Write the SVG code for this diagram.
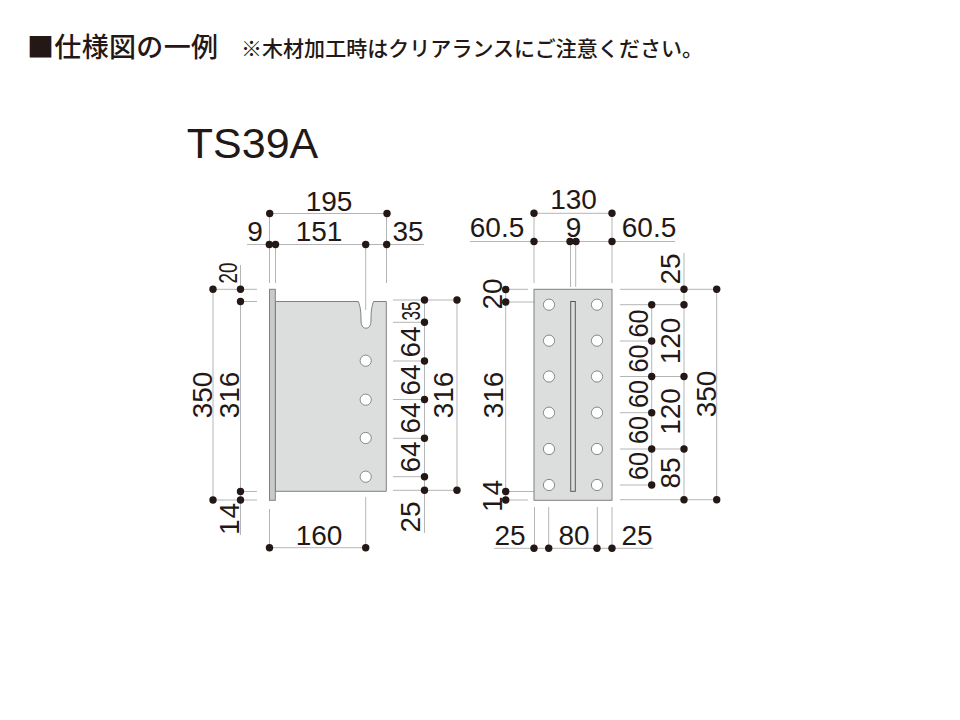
<svg xmlns="http://www.w3.org/2000/svg" width="960" height="720" viewBox="0 0 960 720">
<style>
text{font-family:"Liberation Sans",Arial,sans-serif;font-size:28px;fill:#231815;text-anchor:middle}
.jp{font-family:"Noto Sans CJK JP","Liberation Sans",sans-serif;text-anchor:start;font-weight:500}
.dim line{stroke:#b5b5b5;stroke-width:1;fill:none}
.dots circle{fill:#231815;r:3.7px}
.plate{fill:#dcdddd;stroke:#808080;stroke-width:1}
.hole{fill:#fff;stroke:#6e6e6e;stroke-width:.8;r:5.6px}
</style>
<rect width="960" height="720" fill="#fff"/>
<g id="header">
<text class="jp" x="27" y="57" style="font-size:27px" textLength="191" lengthAdjust="spacing">■仕様図の一例</text>
<text class="jp" x="241" y="56" style="font-size:21px" textLength="462" lengthAdjust="spacing">※木材加工時はクリアランスにご注意ください。</text>
<text x="252.500" y="158" style="font-size:43px">TS39A</text>
</g>
<g id="connectors">
<g class="dim">
<line x1="269.500" y1="213.500" x2="387" y2="213.500"/>
<line x1="247" y1="244.500" x2="424" y2="244.500"/>
<line x1="269.500" y1="213.500" x2="269.500" y2="283"/>
<line x1="275.500" y1="244.500" x2="275.500" y2="283"/>
<line x1="365.700" y1="244.500" x2="365.700" y2="310"/>
<line x1="386.500" y1="213.500" x2="386.500" y2="283"/>
<line x1="213" y1="289.300" x2="257" y2="289.300"/>
<line x1="240.500" y1="301.500" x2="257" y2="301.500"/>
<line x1="240.500" y1="265" x2="240.500" y2="289.300"/>
<line x1="213" y1="289.300" x2="213" y2="500"/>
<line x1="240.500" y1="301.500" x2="240.500" y2="535"/>
<line x1="240.500" y1="491.500" x2="257" y2="491.500"/>
<line x1="213" y1="500" x2="257" y2="500"/>
<line x1="393" y1="300" x2="457" y2="300"/>
<line x1="393" y1="322.300" x2="424.500" y2="322.300"/>
<line x1="393" y1="361" x2="424.500" y2="361"/>
<line x1="393" y1="399.500" x2="424.500" y2="399.500"/>
<line x1="393" y1="438.300" x2="424.500" y2="438.300"/>
<line x1="393" y1="476.700" x2="424.500" y2="476.700"/>
<line x1="393" y1="490.300" x2="457" y2="490.300"/>
<line x1="424.500" y1="300" x2="424.500" y2="533"/>
<line x1="457" y1="300" x2="457" y2="490.300"/>
<line x1="269.500" y1="547.700" x2="365.700" y2="547.700"/>
<line x1="269.500" y1="509" x2="269.500" y2="547.700"/>
<line x1="365.700" y1="497" x2="365.700" y2="547.700"/>
<line x1="534" y1="213.300" x2="612" y2="213.300"/>
<line x1="470" y1="241.500" x2="675" y2="241.500"/>
<line x1="534" y1="213.300" x2="534" y2="283"/>
<line x1="612" y1="213.300" x2="612" y2="283"/>
<line x1="570.500" y1="241.500" x2="570.500" y2="287"/>
<line x1="575.700" y1="241.500" x2="575.700" y2="287"/>
<line x1="505.700" y1="289.300" x2="528" y2="289.300"/>
<line x1="505.700" y1="302" x2="560.500" y2="302"/>
<line x1="505.700" y1="289.300" x2="505.700" y2="500"/>
<line x1="505.700" y1="491.500" x2="560.500" y2="491.500"/>
<line x1="505.700" y1="500" x2="528" y2="500"/>
<line x1="620" y1="289.300" x2="716.700" y2="289.300"/>
<line x1="684" y1="253" x2="684" y2="499.700"/>
<line x1="716.700" y1="289.300" x2="716.700" y2="499.700"/>
<line x1="620" y1="304.700" x2="684" y2="304.700"/>
<line x1="620" y1="341" x2="651.700" y2="341"/>
<line x1="620" y1="376.500" x2="684" y2="376.500"/>
<line x1="620" y1="412.700" x2="651.700" y2="412.700"/>
<line x1="620" y1="449" x2="684" y2="449"/>
<line x1="620" y1="485" x2="651.700" y2="485"/>
<line x1="620" y1="499.700" x2="716.700" y2="499.700"/>
<line x1="651.700" y1="304.700" x2="651.700" y2="485"/>
<line x1="494" y1="548.300" x2="653" y2="548.300"/>
<line x1="534.500" y1="507" x2="534.500" y2="548.300"/>
<line x1="548.700" y1="507" x2="548.700" y2="548.300"/>
<line x1="597.300" y1="507" x2="597.300" y2="548.300"/>
<line x1="612" y1="507" x2="612" y2="548.300"/>
</g>
</g>
<g id="side-view">
<rect class="plate" x="269.500" y="289.300" width="5.800" height="211" style="fill:#c9caca"/>
<path class="plate" d="M275.500 301.500H358.300C360 306 361 310 361 320C361 325 362.500 328.200 366 328.200C369.500 328.200 371 325 371 320C371 310 372 306 373.500 301.500H386.300V491.300H275.500Z"/>
<circle class="hole" cx="365.700" cy="360.700"/>
<circle class="hole" cx="365.700" cy="399.700"/>
<circle class="hole" cx="365.700" cy="438"/>
<circle class="hole" cx="365.700" cy="476.700"/>
</g>
<g id="front-view">
<rect class="plate" x="534" y="289.300" width="78" height="211"/>
<rect x="570.700" y="301.500" width="4.600" height="189.800" fill="#dcdddd" stroke="#595757" stroke-width="1"/>
<circle class="hole" cx="549" cy="304.700"/><circle class="hole" cx="597" cy="304.700"/>
<circle class="hole" cx="549" cy="340.700"/><circle class="hole" cx="597" cy="340.700"/>
<circle class="hole" cx="549" cy="376.500"/><circle class="hole" cx="597" cy="376.500"/>
<circle class="hole" cx="549" cy="412.700"/><circle class="hole" cx="597" cy="412.700"/>
<circle class="hole" cx="549" cy="449"/><circle class="hole" cx="597" cy="449"/>
<circle class="hole" cx="549" cy="485"/><circle class="hole" cx="597" cy="485"/>
</g>
<g id="dimension-dots" class="dots">
<circle cx="269.700" cy="213.500"/><circle cx="387" cy="213.500"/>
<circle cx="269.300" cy="244.500"/><circle cx="275.500" cy="244.500"/><circle cx="365.700" cy="244.500"/><circle cx="386.700" cy="244.500"/>
<circle cx="213" cy="289.300"/><circle cx="240.500" cy="289.300"/><circle cx="240.500" cy="301.500"/>
<circle cx="240.500" cy="491.500"/><circle cx="240.500" cy="500"/><circle cx="213" cy="500"/>
<circle cx="424.500" cy="300"/><circle cx="424.500" cy="322.300"/><circle cx="424.500" cy="361"/><circle cx="424.500" cy="399.500"/><circle cx="424.500" cy="438.300"/><circle cx="424.500" cy="476.700"/><circle cx="424.500" cy="490.300"/>
<circle cx="457" cy="300"/><circle cx="457" cy="490.300"/>
<circle cx="269.500" cy="547.700"/><circle cx="365.700" cy="547.700"/>
<circle cx="534" cy="213.300"/><circle cx="612" cy="213.300"/>
<circle cx="534" cy="241.500"/><circle cx="570" cy="241.500"/><circle cx="576" cy="241.500"/><circle cx="612" cy="241.500"/>
<circle cx="505.700" cy="289.500"/><circle cx="505.700" cy="302"/><circle cx="505.700" cy="491.500"/><circle cx="505.700" cy="500"/>
<circle cx="684" cy="289.300"/><circle cx="684" cy="304.700"/><circle cx="684" cy="376.500"/><circle cx="684" cy="449"/><circle cx="684" cy="499.700"/>
<circle cx="716.700" cy="289.300"/><circle cx="716.700" cy="499.700"/>
<circle cx="651.700" cy="304.700"/><circle cx="651.700" cy="341"/><circle cx="651.700" cy="376.500"/><circle cx="651.700" cy="412.700"/><circle cx="651.700" cy="449"/><circle cx="651.700" cy="485"/>
<circle cx="534" cy="548.300"/><circle cx="548.700" cy="548.300"/><circle cx="597" cy="548.300"/><circle cx="612" cy="548.300"/>
</g>
<g id="labels">
<text x="329" y="211">195</text>
<text x="255" y="240.500">9</text>
<text x="319" y="240.500">151</text>
<text x="408" y="240.500">35</text>
<text x="319" y="544.500">160</text>
<text transform="translate(212 395) rotate(-90)">350</text>
<text transform="translate(238.500 395) rotate(-90)">316</text>
<text transform="translate(238.500 519) rotate(-90)" textLength="32" lengthAdjust="spacing">14</text>
<text transform="translate(236.500 273) rotate(-90)" style="font-size:25px" textLength="21" lengthAdjust="spacingAndGlyphs">20</text>
<text transform="translate(420 311) rotate(-90)" style="font-size:26px" textLength="19" lengthAdjust="spacingAndGlyphs">35</text>
<text transform="translate(420 342) rotate(-90)">64</text>
<text transform="translate(420 380) rotate(-90)">64</text>
<text transform="translate(420 418) rotate(-90)">64</text>
<text transform="translate(420 457) rotate(-90)">64</text>
<text transform="translate(420 517) rotate(-90)">25</text>
<text transform="translate(453 395) rotate(-90)">316</text>
<text x="573.500" y="208.500">130</text>
<text x="497" y="237">60.5</text>
<text x="573.500" y="237">9</text>
<text x="649" y="237">60.5</text>
<text x="510" y="545">25</text>
<text x="574" y="545">80</text>
<text x="637" y="545">25</text>
<text transform="translate(501.500 294) rotate(-90)">20</text>
<text transform="translate(502.500 395) rotate(-90)">316</text>
<text transform="translate(501.500 496) rotate(-90)" textLength="32" lengthAdjust="spacing">14</text>
<text transform="translate(679.500 269) rotate(-90)">25</text>
<text transform="translate(647.500 323.500) rotate(-90)" textLength="28" lengthAdjust="spacingAndGlyphs">60</text>
<text transform="translate(647.500 358.500) rotate(-90)" textLength="28" lengthAdjust="spacingAndGlyphs">60</text>
<text transform="translate(647.500 394) rotate(-90)" textLength="28" lengthAdjust="spacingAndGlyphs">60</text>
<text transform="translate(647.500 430) rotate(-90)" textLength="28" lengthAdjust="spacingAndGlyphs">60</text>
<text transform="translate(647.500 466) rotate(-90)" textLength="28" lengthAdjust="spacingAndGlyphs">60</text>
<text transform="translate(679.500 341) rotate(-90)">120</text>
<text transform="translate(679.500 411.500) rotate(-90)">120</text>
<text transform="translate(679.500 473) rotate(-90)">85</text>
<text transform="translate(715.500 394) rotate(-90)">350</text>
</g>
</svg>
